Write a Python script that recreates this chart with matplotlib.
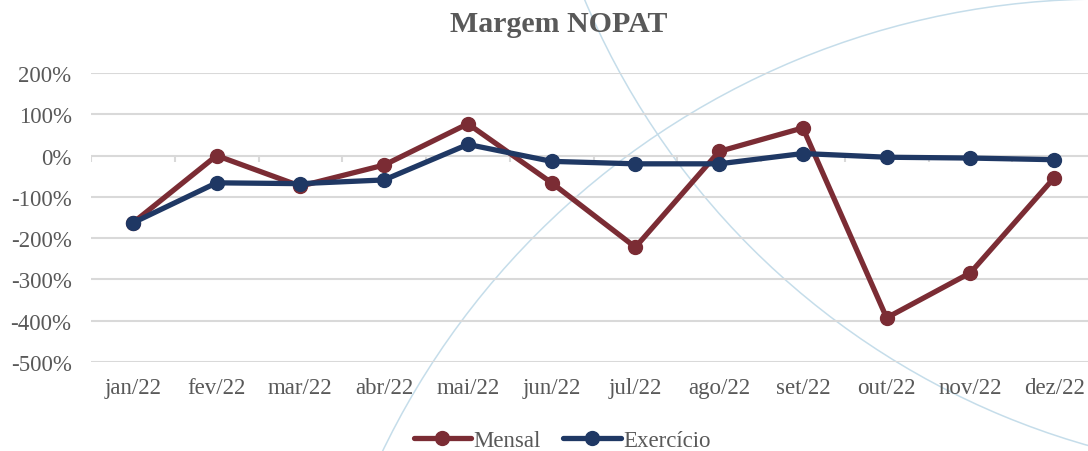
import numpy as np
import matplotlib
matplotlib.use("Agg")
import matplotlib.pyplot as plt
from matplotlib.patches import Arc
from matplotlib.ticker import FuncFormatter

categories = ["jan/22", "fev/22", "mar/22", "abr/22", "mai/22", "jun/22",
              "jul/22", "ago/22", "set/22", "out/22", "nov/22", "dez/22"]
mensal = [-163, 0, -74, -23, 77, -66, -222, 10, 67, -393, -284, -54]
exercicio = [-163, -66, -68, -59, 27, -14, -20, -20, 5, -4, -6, -10]
yticks = [200, 100, 0, -100, -200, -300, -400, -500]

RED = "#7B2C34"
BLUE = "#1F3864"
GRAY = "#595959"
GRID = "#D9D9D9"
ARC = "#C5DDEA"
FONT = "Liberation Serif"

W, H = 1088, 452
fig = plt.figure(figsize=(W / 100, H / 100), dpi=100)

# decorative background arcs
bg = fig.add_axes([0, 0, 1, 1], zorder=0)
bg.set_xlim(0, W)
bg.set_ylim(H, 0)
bg.axis("off")
bg.add_patch(Arc((1300, -300), 2 * 776, 2 * 776, color=ARC, lw=1.1))
bg.add_patch(Arc((1103, 800), 2 * 800, 2 * 800, color=ARC, lw=1.1))

ax = fig.add_axes([91 / W, (H - 363) / H, 1005 / W, 289 / H], zorder=1)
ax.patch.set_alpha(0)
x = np.arange(len(categories))

ax.set_ylim(-500, 200)
ax.set_xlim(-0.5, len(categories) - 0.5)
ax.set_yticks(yticks)
ax.yaxis.set_major_formatter(FuncFormatter(lambda v, p: f"{int(v)}%"))
ax.grid(axis="y", color=GRID, lw=1.5)
ax.set_axisbelow(True)
for s in ax.spines.values():
    s.set_visible(False)
ax.tick_params(axis="y", length=0, pad=14, labelsize=16.5, labelcolor=GRAY)
ax.set_xticks(x)
ax.set_xticklabels(categories)
ax.tick_params(axis="x", length=0, pad=11, labelsize=16.5, labelcolor=GRAY)
for lab in ax.get_xticklabels() + ax.get_yticklabels():
    lab.set_fontfamily(FONT)

# category-boundary tick marks on the 0% line
ax.vlines(np.arange(len(categories) + 1) - 0.5, -15, 0, color=GRID, lw=1.5, zorder=1)

ax.plot(x, mensal, color=RED, lw=3.8, marker="o", ms=10, label="Mensal",
        solid_capstyle="round", zorder=3)
ax.plot(x, exercicio, color=BLUE, lw=3.8, marker="o", ms=10, label="Exercício",
        solid_capstyle="round", zorder=4)

fig.text(559 / W, 1 - 24 / H, "Margem NOPAT", ha="center", va="center",
         fontsize=21.5, fontweight="bold", color=GRAY, fontfamily=FONT)

leg = fig.legend(loc="center", bbox_to_anchor=(562 / W, 1 - 441 / H), ncol=2,
                 frameon=False, handlelength=2.5, handletextpad=0.1,
                 columnspacing=1.0, prop={"family": FONT, "size": 16.5})
for t in leg.get_texts():
    t.set_color(GRAY)

fig.savefig("out.png", dpi=100)
